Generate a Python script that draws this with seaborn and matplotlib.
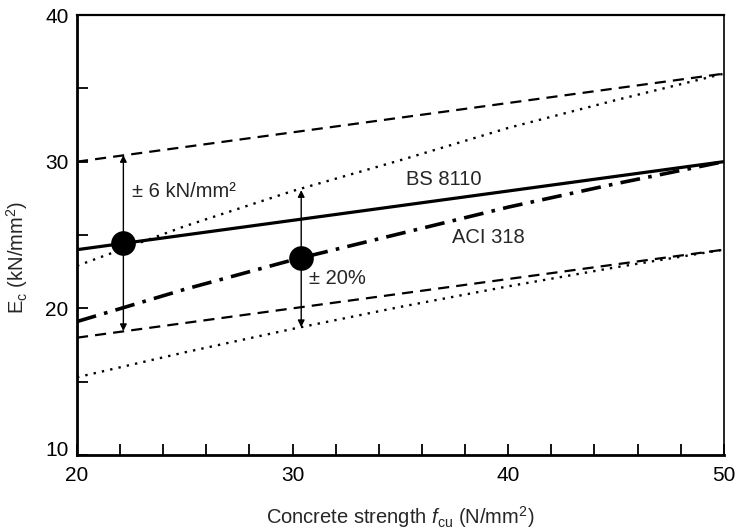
import matplotlib
matplotlib.use("Agg")
import matplotlib.pyplot as plt
import matplotlib.transforms as mtransforms
from matplotlib.ticker import MultipleLocator
import pandas as pd
import seaborn as sns

# values
fcu = [20, 25, 30, 35, 40, 45, 50]
bs8110 = [24.0, 25.0, 26.0, 27.0, 28.0, 29.0, 30.0]
bs_upper = [30.0, 31.0, 32.0, 33.0, 34.0, 35.0, 36.0]
bs_lower = [18.0, 19.0, 20.0, 21.0, 22.0, 23.0, 24.0]
aci318 = [19.1, 21.3, 23.3, 25.1, 26.9, 28.5, 30.0]
aci_upper = [22.9, 25.6, 28.0, 30.1, 32.3, 34.2, 36.0]
aci_lower = [15.3, 17.0, 18.6, 20.1, 21.5, 22.8, 24.0]

point_x = [22.15, 30.4]
point_y = [24.45, 23.42]
arrow_x = [22.15, 30.4]
arrow_top = [30.45, 28.06]
arrow_bottom = [18.45, 18.72]

sns.set_style("ticks")
plt.rcParams["font.family"] = ["Liberation Sans", "DejaVu Sans"]
plt.rcParams["mathtext.fontset"] = "custom"
plt.rcParams["mathtext.rm"] = "Liberation Sans"
plt.rcParams["mathtext.it"] = "Liberation Sans:italic"

df = pd.DataFrame({"fcu": fcu, "bs": bs8110, "bs_up": bs_upper, "bs_lo": bs_lower,
                   "aci": aci318, "aci_up": aci_upper, "aci_lo": aci_lower})

fig = plt.figure(figsize=(7.37, 5.32), dpi=100)
ax = fig.add_axes([0.1045, 0.1447, 0.8775, 0.8271])

sns.lineplot(data=df, x="fcu", y="bs_up", ax=ax, color="black", lw=1.6,
             linestyle=(0, (5, 3.2)))
sns.lineplot(data=df, x="fcu", y="bs_lo", ax=ax, color="black", lw=1.6,
             linestyle=(0, (5, 3.2)))
sns.lineplot(data=df, x="fcu", y="aci_up", ax=ax, color="black", lw=1.7,
             linestyle=(0, (1, 2.6)))
sns.lineplot(data=df, x="fcu", y="aci_lo", ax=ax, color="black", lw=1.7,
             linestyle=(0, (1, 2.6)))
sns.lineplot(data=df, x="fcu", y="bs", ax=ax, color="black", lw=2.3)
sns.lineplot(data=df, x="fcu", y="aci", ax=ax, color="black", lw=2.6,
             linestyle=(0, (5.5, 2.3, 1, 2.3)))

for x, top, bot in zip(arrow_x, arrow_top, arrow_bottom):
    ax.annotate("", xy=(x, top), xytext=(x, bot),
                arrowprops=dict(arrowstyle="<|-|>", color="black", lw=1.0,
                                mutation_scale=10, shrinkA=0, shrinkB=0))

sns.scatterplot(x=point_x, y=point_y, ax=ax, color="black", s=270, edgecolor="black",
                zorder=5)

ax.text(22.55, 27.95, "± 6 kN/mm²", fontsize=14.5, va="center", ha="left")
ax.text(30.75, 22.05, "± 20%", fontsize=14.5, va="center", ha="left")
ax.text(35.25, 28.8, "BS 8110", fontsize=14.5, va="center", ha="left")
ax.text(37.4, 24.8, "ACI 318", fontsize=14.5, va="center", ha="left")

ax.set_xlim(20, 50)
ax.set_ylim(10, 40)
ax.set_xticks([20, 30, 40, 50])
ax.set_yticks([10, 20, 30, 40])
ax.xaxis.set_minor_locator(MultipleLocator(2))
ax.yaxis.set_minor_locator(MultipleLocator(5))
ax.tick_params(which="both", direction="in", length=8, width=1.3, labelsize=15,
               colors="black")
ax.tick_params(axis="x", which="both", top=False, pad=8)
ax.tick_params(axis="y", which="both", right=False, pad=6)

# the "10" label sits a little above the corner in the original
lab10 = ax.get_yticklabels()[0]
lab10.set_transform(lab10.get_transform() + mtransforms.ScaledTranslation(0, 0.07, fig.dpi_scale_trans))

for side in ["left", "bottom"]:
    ax.spines[side].set_linewidth(2.0)
ax.spines["top"].set_linewidth(1.6)
ax.spines["right"].set_linewidth(1.2)
for s in ax.spines.values():
    s.set_color("black")

ax.set_xlabel(r"Concrete strength $\mathit{f}_{\rm cu}$ (N/mm$^2$)", fontsize=14.5, labelpad=14)
ax.set_ylabel(r"E$_{\rm c}$ (kN/mm$^2$)", fontsize=14.5)
ax.yaxis.set_label_coords(-0.072, 0.45)

fig.savefig("out.png", dpi=100)
